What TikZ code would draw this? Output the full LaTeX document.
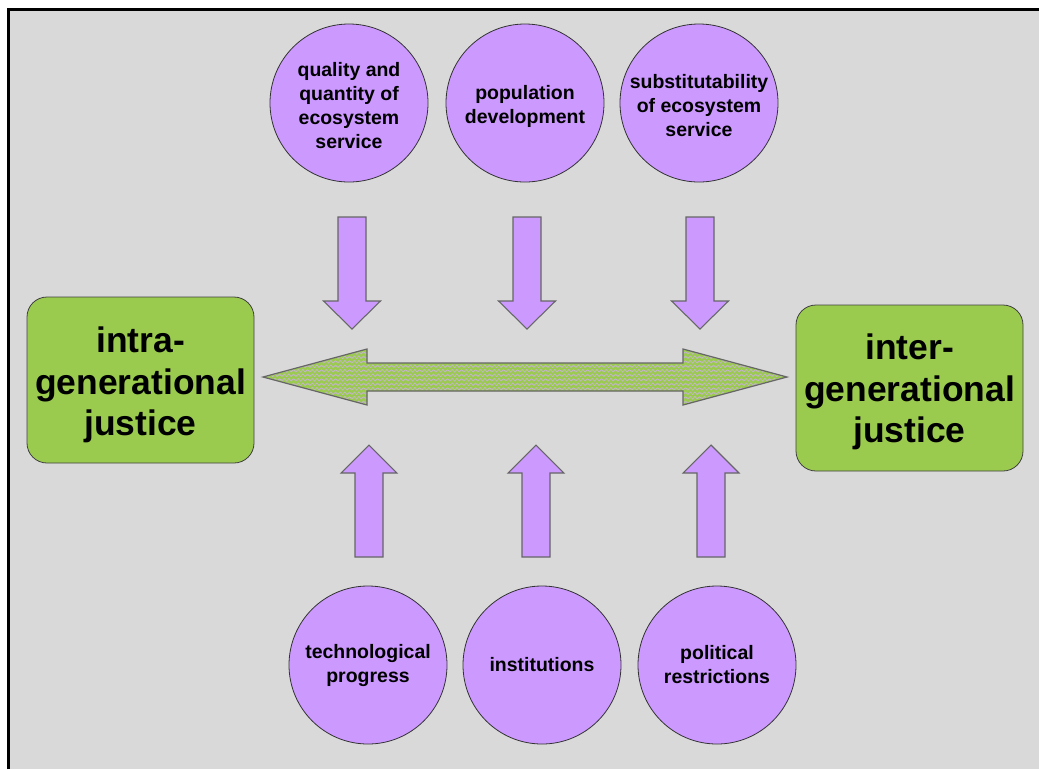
\documentclass[tikz,border=0pt]{standalone}
\usepackage{fontspec}
\setmainfont{Liberation Sans}
\usetikzlibrary{decorations.pathmorphing}
\definecolor{bg}{HTML}{D9D9D9}
\definecolor{lilac}{HTML}{CC99FF}
\definecolor{leaf}{HTML}{9BCB4E}
\definecolor{lav}{HTML}{C8B0DC}
\newcommand\jarrowpath{(263,377) -- (367,349) -- (367,363) -- (683,363) -- (683,349) -- (787,377) -- (683,405) -- (683,391) -- (367,391) -- (367,405) -- cycle}
\begin{document}
\begin{tikzpicture}[x=0.75pt,y=-0.75pt,
  circ/.style={circle, draw=black!80, line width=0.6pt, fill=lilac, minimum size=118.5pt, inner sep=0pt, align=center, font=\fontsize{14.6}{18}\selectfont\bfseries},
  goal/.style={rectangle, rounded corners=15pt, draw=black!75, line width=0.6pt, fill=leaf, minimum width=170.25pt, minimum height=124.5pt, inner sep=0pt},
  goaltext/.style={inner sep=0pt, align=center, font=\fontsize{26.6}{31}\selectfont\bfseries},
  blockarr/.style={draw=black!60, line width=0.8pt, fill=lilac, line join=miter},
  downarrow/.pic={\path[blockarr] (-14,0) -- (14,0) -- (14,84) -- (28.5,84) -- (0,112) -- (-28.5,84) -- (-14,84) -- cycle;},
  uparrow/.pic={\path[blockarr] (0,0) -- (28,28) -- (14,28) -- (14,112) -- (-14,112) -- (-14,28) -- (-28,28) -- cycle;},
]
\useasboundingbox (0,0) rectangle (1039,769);
% background and frame
\fill[bg] (8.5,9.5) rectangle (1039,769);
\draw[line width=2.25pt, line join=miter] (8.5,769) -- (8.5,9.5) -- (1039,9.5);

% top circles
\node[circ] (quality) at (349,103) {};
\node[circ] (population) at (525,103) {};
\node[circ] (substit) at (699,103) {};
\node[circ, draw=none, fill=none] (qualityt) at (349,106) {quality and\\quantity of\\ecosystem\\service};
\node[circ, draw=none, fill=none] (populationt) at (525,106) {population\\development};
\node[circ, draw=none, fill=none] (substitt) at (699,106) {substitutability\\of ecosystem\\service};

% bottom circles
\node[circ] (techno) at (368,665) {technological\\progress};
\node[circ] (instit) at (542,665) {institutions};
\node[circ] (politic) at (717,665) {political\\restrictions};

% goal boxes
\node[goal] (intra) at (140.5,380) {};
\node[goal] (inter) at (909.5,388) {};
\node[goaltext] (intrat) at (140.5,385) {intra-\\generational\\justice};
\node[goaltext] (intert) at (909.5,392) {inter-\\generational\\justice};

% down arrows
\pic at (352,217) {downarrow};
\pic at (527,217) {downarrow};
\pic at (700,217) {downarrow};

% up arrows
\pic at (369,445) {uparrow};
\pic at (536,445) {uparrow};
\pic at (711,445) {uparrow};

% central double arrow with zigzag pattern
\begin{scope}
  \clip \jarrowpath;
  \fill[lav] (255,340) rectangle (795,415);
  \foreach \yy in {346,350.5,...,412}
    \draw[leaf, line width=1.5pt, decorate, decoration={zigzag, segment length=3.5pt, amplitude=1pt}] (255,\yy) -- (795,\yy);
\end{scope}
\draw[draw=black!60, line width=0.9pt, line join=miter] \jarrowpath;
\end{tikzpicture}
\end{document}
